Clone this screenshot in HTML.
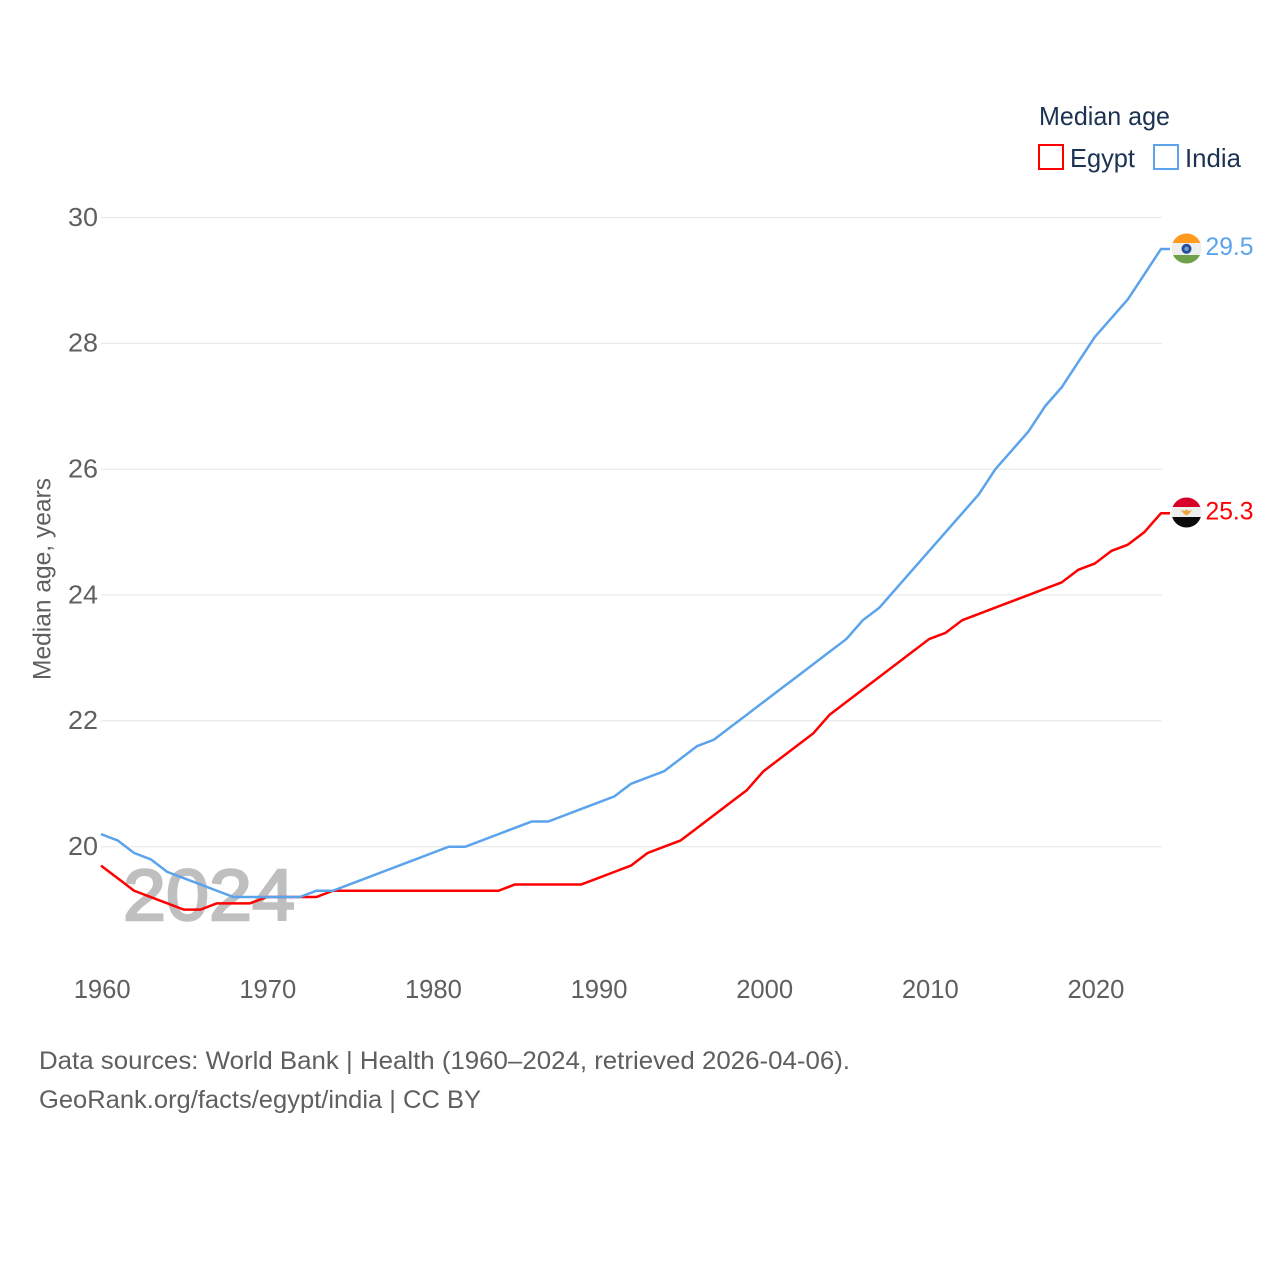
<!DOCTYPE html>
<html lang="en">
<head>
<meta charset="utf-8">
<title>Median age: Egypt and India</title>
<style>
html,body{margin:0;padding:0;background:#fff;width:1280px;height:1280px;overflow:hidden}
svg{display:block}
text{font-family:"Liberation Sans",sans-serif}
</style>
</head>
<body>
<svg id="chart" xmlns="http://www.w3.org/2000/svg" width="1280" height="1280" viewBox="0 0 1280 1280">
  <defs>
    <clipPath id="clip-india"><circle cx="1186.5" cy="248.5" r="15"/></clipPath>
    <clipPath id="clip-egypt"><circle cx="1186.5" cy="512.5" r="15"/></clipPath>
  </defs>
  <g id="grid"></g>
  <g id="yticks"></g>
  <g id="xticks"></g>
  <text x="123" y="920" font-size="72" fill="#bfbfbf" stroke="#bfbfbf" stroke-width="2.4" textLength="172" lengthAdjust="spacingAndGlyphs">2024</text>
  <g id="lines"></g>
  <text transform="translate(50.5,680) rotate(-90)" font-size="25" fill="#5f5f5f" textLength="202" lengthAdjust="spacingAndGlyphs">Median age, years</text>

  <text x="1039" y="125" font-size="26" fill="#1b3252" textLength="131" lengthAdjust="spacingAndGlyphs">Median age</text>
  <rect x="1039" y="145" width="24" height="24" fill="#fff" stroke="#ff0000" stroke-width="2"/>
  <text x="1070" y="167" font-size="26" fill="#1b3252" textLength="65" lengthAdjust="spacingAndGlyphs">Egypt</text>
  <rect x="1154" y="145" width="24" height="24" fill="#fff" stroke="#5ba4ec" stroke-width="2"/>
  <text x="1185" y="167" font-size="26" fill="#1b3252" textLength="56" lengthAdjust="spacingAndGlyphs">India</text>

  <g clip-path="url(#clip-india)">
    <rect x="1171" y="233" width="31" height="10" fill="#ff9a1f"/>
    <rect x="1171" y="243" width="31" height="12" fill="#eeeeee"/>
    <rect x="1171" y="255" width="31" height="9" fill="#6fa14a"/>
    <circle cx="1186.5" cy="248.8" r="5" fill="#1f4f9e"/>
    <circle cx="1186.5" cy="248.8" r="2.2" fill="#7f9bd0"/>
  </g>
  <g clip-path="url(#clip-egypt)">
    <rect x="1171" y="497" width="31" height="10" fill="#d8002a"/>
    <rect x="1171" y="507" width="31" height="10" fill="#eeeeee"/>
    <rect x="1171" y="517" width="31" height="11" fill="#0a0a0a"/>
    <polygon points="1181,510 1185,511 1186.5,509 1188,511 1192,510 1189,514 1186.5,515.5 1184,514" fill="#f2a23a"/>
  </g>
  <text id="label-india" x="1205.5" y="255" font-size="25" fill="#5ba4ec" textLength="48" lengthAdjust="spacingAndGlyphs">29.5</text>
  <text id="label-egypt" x="1205.5" y="519.5" font-size="25" fill="#ff0000" textLength="48" lengthAdjust="spacingAndGlyphs">25.3</text>

  <text x="39" y="1069" font-size="25" fill="#5f5f5f" textLength="811" lengthAdjust="spacingAndGlyphs">Data sources: World Bank | Health (1960–2024, retrieved 2026-04-06).</text>
  <text x="39" y="1108" font-size="25" fill="#5f5f5f" textLength="442" lengthAdjust="spacingAndGlyphs">GeoRank.org/facts/egypt/india | CC BY</text>
</svg>
<script>
const years = [];
for (let y = 1960; y <= 2024; y++) years.push(y);
const egyptValues = [19.7,19.5,19.3,19.2,19.1,19.0,19.0,19.1,19.1,19.1,19.2,19.2,19.2,19.2,19.3,19.3,19.3,19.3,19.3,19.3,19.3,19.3,19.3,19.3,19.3,19.4,19.4,19.4,19.4,19.4,19.5,19.6,19.7,19.9,20.0,20.1,20.3,20.5,20.7,20.9,21.2,21.4,21.6,21.8,22.1,22.3,22.5,22.7,22.9,23.1,23.3,23.4,23.6,23.7,23.8,23.9,24.0,24.1,24.2,24.4,24.5,24.7,24.8,25.0,25.3];
const indiaValues = [20.2,20.1,19.9,19.8,19.6,19.5,19.4,19.3,19.2,19.2,19.2,19.2,19.2,19.3,19.3,19.4,19.5,19.6,19.7,19.8,19.9,20.0,20.0,20.1,20.2,20.3,20.4,20.4,20.5,20.6,20.7,20.8,21.0,21.1,21.2,21.4,21.6,21.7,21.9,22.1,22.3,22.5,22.7,22.9,23.1,23.3,23.6,23.8,24.1,24.4,24.7,25.0,25.3,25.6,26.0,26.3,26.6,27.0,27.3,27.7,28.1,28.4,28.7,29.1,29.5];
const yTicks = [20,22,24,26,28,30];
const xTicks = [1960,1970,1980,1990,2000,2010,2020];

const NS = 'http://www.w3.org/2000/svg';
function xScale(v){ return 101 + (v - 1960) * (1161 - 101) / 64; }
function yScale(v){ return 846.7 - (v - 20) * (846.7 - 217.5) / 10; }

const grid = document.getElementById('grid');
const yt = document.getElementById('yticks');
const xt = document.getElementById('xticks');

yTicks.forEach(function(t){
  const l = document.createElementNS(NS, 'line');
  
  
  l.setAttribute('x1', 101);
  l.setAttribute('x2', 1162);
  l.setAttribute('y1', yScale(t));
  l.setAttribute('y2', yScale(t));
  l.setAttribute('stroke', '#e9e9e9');
  l.setAttribute('stroke-width', '1.2');
  grid.appendChild(l);
  const s = document.createElementNS(NS, 'text');
  
  
  s.setAttribute('x', 98);
  s.setAttribute('y', yScale(t) + 8.3);
  s.setAttribute('text-anchor', 'end');
  s.setAttribute('font-size', '26');
  s.setAttribute('fill', '#5f5f5f');
  s.setAttribute('textLength', '30');
  s.setAttribute('lengthAdjust', 'spacingAndGlyphs');
  s.textContent = t;
  yt.appendChild(s);
});

xTicks.forEach(function(t){
  const s = document.createElementNS(NS, 'text');
  
  
  s.setAttribute('x', xScale(t) + 1.2);
  s.setAttribute('y', 998);
  s.setAttribute('text-anchor', 'middle');
  s.setAttribute('font-size', '26');
  s.setAttribute('fill', '#5f5f5f');
  s.setAttribute('textLength', '57');
  s.setAttribute('lengthAdjust', 'spacingAndGlyphs');
  s.textContent = t;
  xt.appendChild(s);
});

function drawSeries(values, color, name){
  const pts = values.map(function(v, i){ return xScale(years[i]).toFixed(2) + ',' + yScale(v).toFixed(2); });
  const last = values[values.length - 1];
  pts.push((xScale(years[years.length - 1]) + 9).toFixed(2) + ',' + yScale(last).toFixed(2));
  const p = document.createElementNS(NS, 'polyline');
  
  
  p.setAttribute('points', pts.join(' '));
  p.setAttribute('fill', 'none');
  p.setAttribute('stroke', color);
  p.setAttribute('stroke-width', '2.5');
  p.setAttribute('stroke-linejoin', 'round');
  document.getElementById('lines').appendChild(p);
}
drawSeries(egyptValues, '#ff0000', 'egypt-line');
drawSeries(indiaValues, '#5ba4ec', 'india-line');

document.getElementById('label-india').textContent = indiaValues[indiaValues.length - 1].toFixed(1);
document.getElementById('label-egypt').textContent = egyptValues[egyptValues.length - 1].toFixed(1);
</script>
</body>
</html>
